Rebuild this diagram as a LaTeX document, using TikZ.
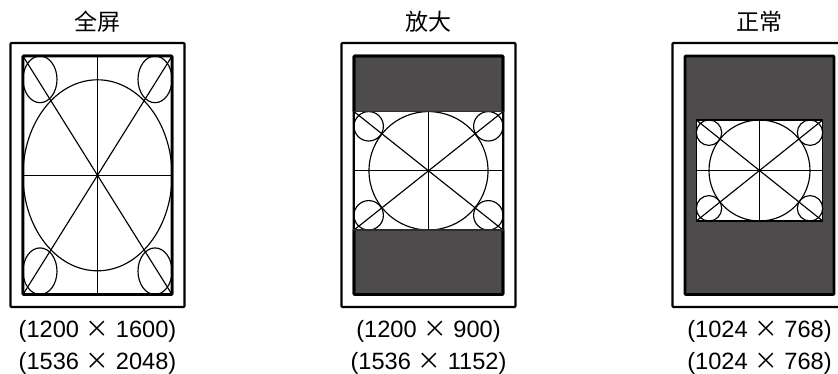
\documentclass[tikz,border=0pt]{standalone}
\usepackage{fontspec}
\setmainfont{Liberation Sans}
\newfontfamily\cjk{Noto Sans CJK SC}
\definecolor{panelgray}{HTML}{4D4B4C}
\newcommand{\bytimes}{\hspace{0.28em}{\cjk ×}\hspace{0.28em}}
\tikzset{
	case frame/.style={draw=black, line width=2.1pt, rounded corners=0.8pt},
	screen frame/.style={draw=black, line width=2.8pt, rounded corners=0.8pt},
	test line/.style={draw=black, line width=1.15pt},
	title text/.style={font=\fontsize{23}{25}\selectfont\cjk, anchor=base},
	size text/.style={font=\fontsize{23.6}{25}\selectfont, anchor=base}
}
\begin{document}
\begin{tikzpicture}[x=1pt, y=-1pt, line cap=round, line join=round]
	\useasboundingbox (0,0) rectangle (838,374);
	\clip (0,0) rectangle (838,374);
	% cases and screens
	\foreach \cx/\col in {97.5/white, 428.5/panelgray, 759.5/panelgray} {
		\draw[case frame, fill=white] (\cx-87,43) rectangle (\cx+87,307);
		\draw[screen frame, fill=\col] (\cx-74.5,56) rectangle (\cx+74.5,294.5);
	}
	% test cards
	\foreach \cx/\cy/\hw/\hh/\rx/\ry/\cw/\ch in {97.5/175.3/74.5/119.2/74.5/95.5/17/23.3, 428.5/170.8/74.5/59.2/59.5/59.2/14.7/14.7, 759.5/170.5/63.2/50.5/50.5/50.5/12.7/12.7} {
		\fill[white] (\cx-\hw,\cy-\hh) rectangle (\cx+\hw,\cy+\hh);
		\draw[test line] (\cx-\hw,\cy-\hh) rectangle (\cx+\hw,\cy+\hh);
		\draw[test line] (\cx,\cy) ellipse [x radius=\rx, y radius=\ry];
		\draw[test line] (\cx-\hw,\cy) -- (\cx+\hw,\cy);
		\draw[test line] (\cx,\cy-\hh) -- (\cx,\cy+\hh);
		\draw[test line] (\cx-\hw,\cy-\hh) -- (\cx+\hw,\cy+\hh);
		\draw[test line] (\cx-\hw,\cy+\hh) -- (\cx+\hw,\cy-\hh);
		\foreach \sx/\sy in {-1/-1, 1/-1, -1/1, 1/1}
			\draw[test line] ({\cx+\sx*(\hw-\cw)},{\cy+\sy*(\hh-\ch)}) ellipse [x radius=\cw, y radius=\ch];
	}
	% thick edges back on top
	\draw[screen frame] (23,56) rectangle (172,294.5);
	\draw[screen frame] (354,111.6) -- (354,56) -- (503,56) -- (503,111.6);
	\draw[screen frame] (354,230) -- (354,294.5) -- (503,294.5) -- (503,230);
	\draw[line width=1.1pt, panelgray!60!black] (354,111.6) -- (503,111.6) (354,230) -- (503,230);
	% texts
	\node[title text] (titlefull) at (97.5,31) {全屏};
	\node[title text] (titlezoom) at (428.5,31) {放大};
	\node[title text] (titlenormal) at (759.5,31) {正常};
	\node[size text] (sizefulla) at (97.5,337) {(1200\bytimes 1600)};
	\node[size text] (sizefullb) at (97.5,369) {(1536\bytimes 2048)};
	\node[size text] (sizezooma) at (428.5,337) {(1200\bytimes 900)};
	\node[size text] (sizezoomb) at (428.5,369) {(1536\bytimes 1152)};
	\node[size text] (sizenormala) at (759.5,337) {(1024\bytimes 768)};
	\node[size text] (sizenormalb) at (759.5,369) {(1024\bytimes 768)};
\end{tikzpicture}
\end{document}
